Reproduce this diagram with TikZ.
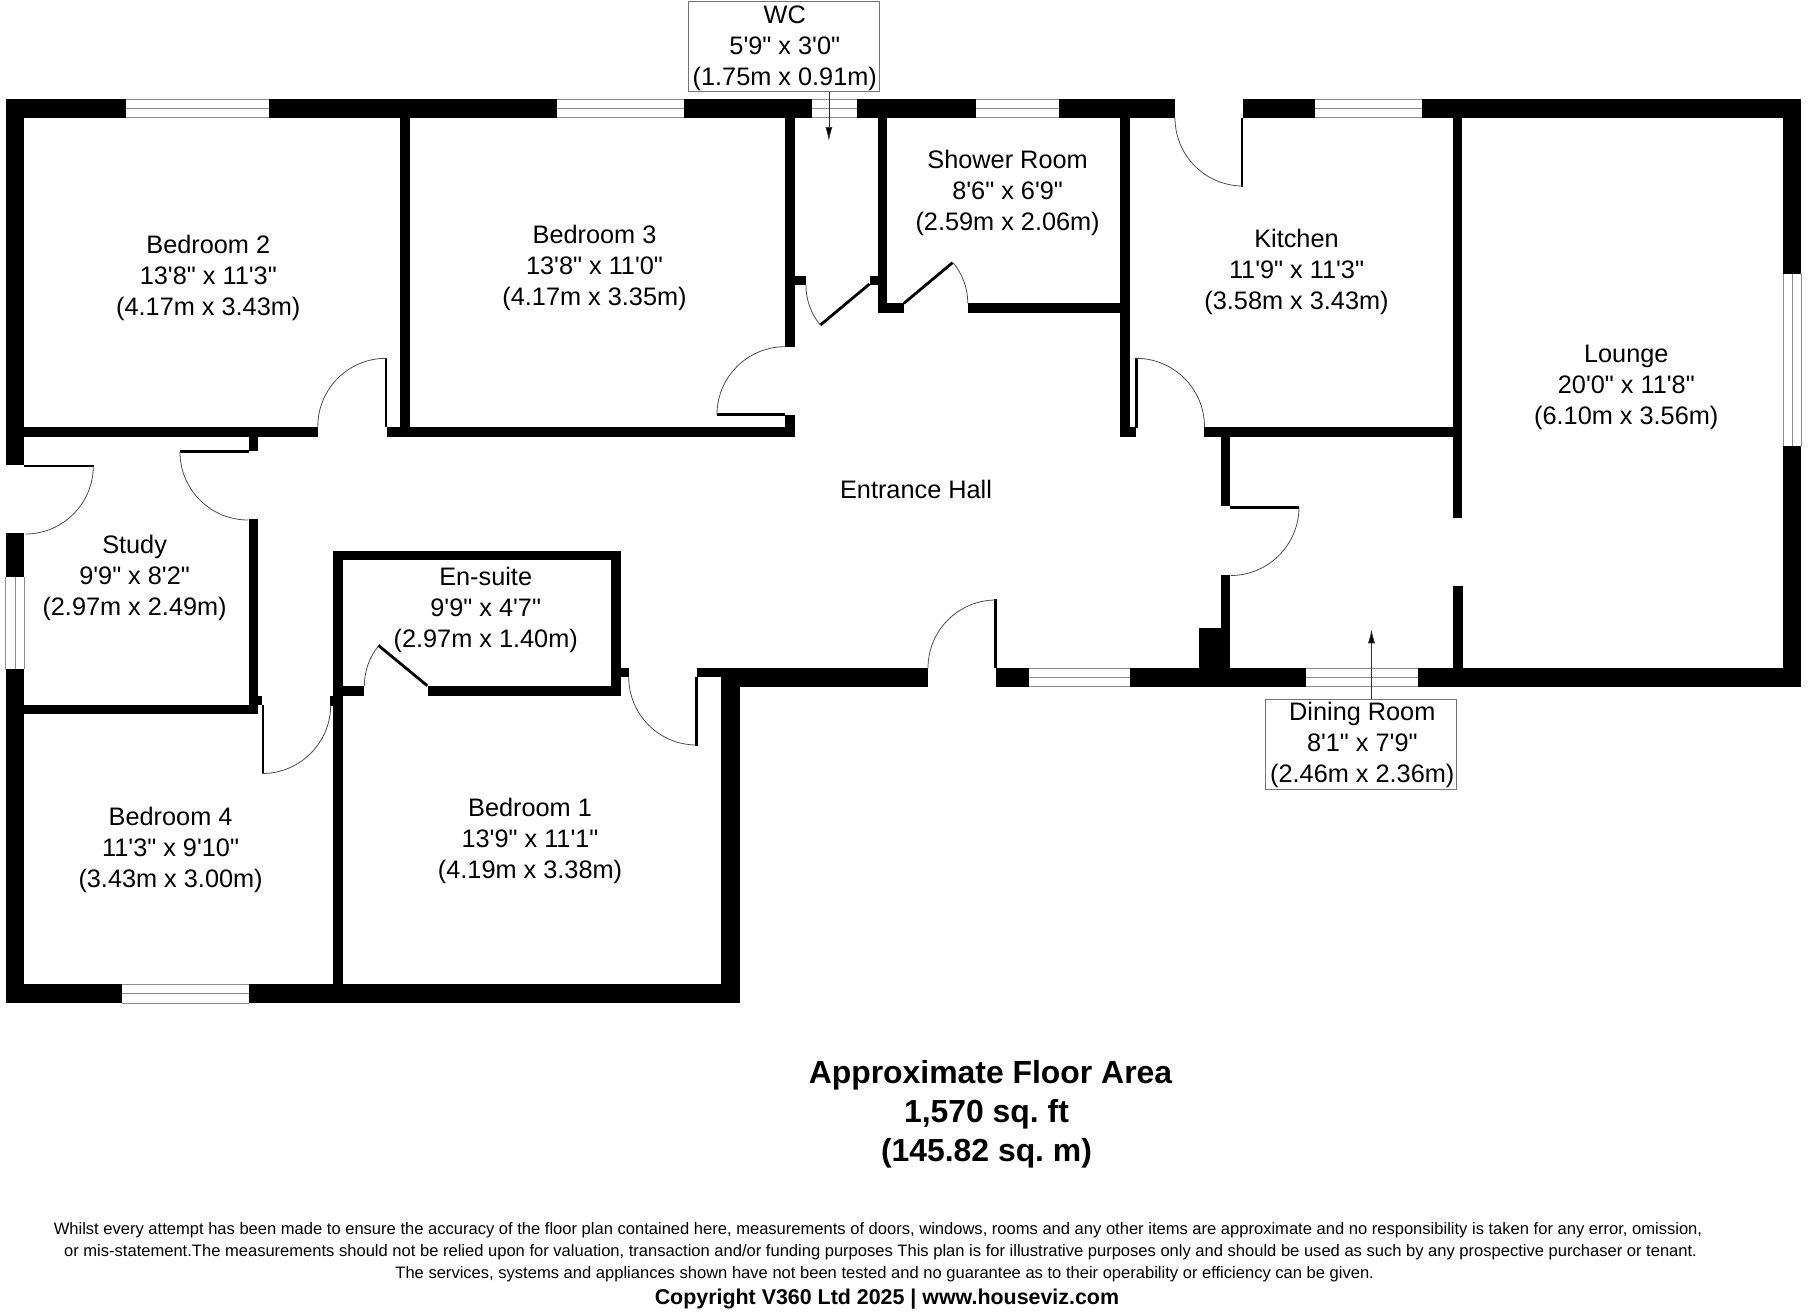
\documentclass[tikz,border=0pt]{standalone}
\usepackage{fontspec}
\usetikzlibrary{arrows.meta}
\newfontfamily\plain{Liberation Sans}
\newfontfamily\plainbf{Liberation Sans Bold}
\tikzset{
  roomlabel/.style={inner sep=0pt,align=center,text=black,font=\plain\fontsize{25.3pt}{31pt}\selectfont},
  titlelabel/.style={inner sep=0pt,align=center,text=black,font=\plainbf\fontsize{31.9pt}{39pt}\selectfont\frenchspacing},
  notelabel/.style={inner sep=0pt,anchor=base,text=black,font=\plain\fontsize{16.55pt}{18pt}\selectfont},
  copylabel/.style={inner sep=0pt,anchor=base,text=black,font=\plainbf\fontsize{21.4pt}{24pt}\selectfont},
  calloutbox/.style={draw=black!55,line width=0.9pt,fill=white,inner sep=0pt},
  calloutarrow/.style={draw=black!80,line width=0.7pt,-{Latex[length=14pt,width=7pt,fill=black]}},
  wallfill/.style={fill=black,draw=none},
  winline/.style={draw=black!45,line width=1pt},
  swing/.style={draw=black!70,line width=0.8pt},
  leaf/.style={draw=black,line width=2.8pt},
}
\newcommand{\wl}[4]{\fill[wallfill] (#1,#2) rectangle (#3,#4);}
\newcommand{\hwin}[4]{\draw[winline] (#1,#2) -- (#3,#2) (#1,#4) -- (#3,#4) (#1,{(#2+#4)/2}) -- (#3,{(#2+#4)/2});}
\newcommand{\vwin}[4]{\draw[winline] (#1,#2) -- (#1,#4) (#3,#2) -- (#3,#4) ({(#1+#3)/2},#2) -- ({(#1+#3)/2},#4);}
\newcommand{\swg}[5]{\draw[swing] (#1,#2) arc[start angle=#3,end angle=#4,radius=#5pt];}
\newcommand{\ph}{\vphantom{(}}
\begin{document}
\begin{tikzpicture}[x=1pt,y=-1pt]
\useasboundingbox (0,0) rectangle (1808,1312);
\fill[white] (0,0) rectangle (1808,1312);
% top wall
\wl{5.7}{99.3}{126.3}{117.7}
\wl{269.4}{99.3}{557}{117.7}
\wl{683.8}{99.3}{811.6}{117.7}
\wl{857.2}{99.3}{976.2}{117.7}
\wl{1059.2}{99.3}{1174.8}{117.7}
\wl{1243.2}{99.3}{1314.5}{117.7}
\wl{1422.3}{99.3}{1801.3}{117.7}
% left wall
\wl{5.7}{99.3}{24.3}{465}
\wl{5.7}{533.3}{24.3}{577.3}
\wl{5.7}{668.7}{24.3}{1003.3}
% bottom of bedrooms
\wl{5.7}{984.3}{122}{1003.3}
\wl{248.7}{984.3}{740.2}{1003.3}
\wl{721.3}{677.3}{740.2}{1003.3}
% bottom of main block
\wl{696.7}{668}{740.2}{677.3}
\wl{721.3}{668}{928}{686.7}
\wl{996}{668}{1028.6}{686.7}
\wl{1130}{668}{1306.4}{686.7}
\wl{1418.2}{668}{1801.3}{686.7}
% right wall
\wl{1782.8}{99.3}{1801.3}{273.7}
\wl{1782.8}{445.7}{1801.3}{686.7}
% bedroom 2 / 3
\wl{400.3}{117.7}{409.5}{430}
\wl{24}{427.3}{318.4}{436.7}
\wl{387}{427.3}{794.8}{436.7}
\wl{249}{436}{258.3}{450.7}
% study
\wl{249}{519.3}{258.3}{714}
\wl{24}{704.7}{258.3}{714}
\wl{258}{695.7}{261.7}{704.7}
% en-suite
\wl{333.3}{550.7}{620.7}{560.3}
\wl{333.3}{550.7}{343.3}{1000}
\wl{611.3}{550.7}{620.7}{695.7}
\wl{428}{685.7}{620.7}{695.7}
\wl{343}{686.4}{364.3}{696}
\wl{330}{695.7}{334}{705.7}
\wl{620.7}{668}{628.7}{677.3}
% WC and shower room
\wl{785.2}{117.7}{794.8}{346.7}
\wl{794.8}{276}{805.9}{285.3}
\wl{785.2}{415}{794.8}{436.7}
\wl{870}{276}{877.5}{285.3}
\wl{877.5}{117.7}{886.6}{312.7}
\wl{877.5}{303.3}{903.9}{312.7}
\wl{967.8}{303.3}{1120}{312.7}
% kitchen
\wl{1120}{117.7}{1129.7}{436.7}
\wl{1120}{427.3}{1135.8}{436.7}
\wl{1203.7}{427}{1462}{436.7}
\wl{1453}{117.7}{1462.4}{517.7}
\wl{1453}{586}{1462.6}{670}
% dining room
\wl{1220.7}{430}{1230.3}{506}
\wl{1220.7}{575}{1230.3}{670}
\wl{1198.9}{627.7}{1230.3}{670}
% windows
\hwin{126.3}{99.3}{269.4}{117.7}
\hwin{557}{99.3}{683.8}{117.7}
\hwin{811.6}{99.3}{857.2}{117.7}
\hwin{976.2}{99.3}{1059.2}{117.7}
\hwin{1314.5}{99.3}{1422.3}{117.7}
\hwin{122}{984.6}{248.7}{1003}
\hwin{1028.6}{668.2}{1130}{686.5}
\hwin{1306.4}{668.2}{1418.2}{686.5}
\vwin{5.9}{577.3}{24.1}{668.7}
\vwin{1783}{273.7}{1801.1}{445.7}
% door leaves
\wl{385}{358.3}{387.3}{427.3}
\wl{180}{450.4}{249.2}{452.8}
\wl{24.3}{464.5}{93.5}{466.7}
\wl{261.5}{704.7}{264}{773.3}
\wl{695}{676.7}{697.5}{746}
\wl{716.7}{413.2}{785.4}{415.6}
\wl{1241}{117.7}{1243.3}{186.7}
\wl{1135.4}{358.3}{1137.7}{427.5}
\wl{1230.3}{506}{1299}{508.6}
\wl{994}{599}{996.5}{668}
\draw[leaf] (378.3,645.3) -- (427.3,685.7);
\draw[leaf] (820.4,325) -- (869.5,284);
\draw[leaf] (903.9,303.3) -- (952.5,262.7);
% door swings
\swg{386}{358.3}{90}{180}{68.2}
\swg{93.3}{466}{0}{-90}{68}
\swg{180}{452}{180}{270}{68}
\swg{330.7}{705}{0}{-90}{68.5}
\swg{364.3}{686}{180}{140.7}{64}
\swg{628.7}{677}{180}{270}{68}
\swg{785}{346.7}{90}{180}{68}
\swg{805.9}{285}{180}{219.5}{63}
\swg{967.8}{303.3}{0}{39.9}{63.5}
\swg{1175}{118}{180}{270}{68}
\swg{1136}{358.3}{90}{0}{68.5}
\swg{1299}{507}{0}{-90}{68.5}
\swg{928}{668}{180}{90}{68}
% room labels
\node[roomlabel] (bed2) at (208.3,278) {Bedroom 2\ph\\13'8" x 11'3"\\(4.17m x 3.43m)};
\node[roomlabel] (bed3) at (594.5,268) {Bedroom 3\ph\\13'8" x 11'0"\\(4.17m x 3.35m)};
\node[roomlabel] (shower) at (1007.6,193.3) {Shower Room\ph\\8'6" x 6'9"\\(2.59m x 2.06m)};
\node[roomlabel] (kitchen) at (1296.5,271.6) {Kitchen\ph\\11'9" x 11'3"\\(3.58m x 3.43m)};
\node[roomlabel] (lounge) at (1626.3,386.6) {Lounge\ph\\20'0" x 11'8"\\(6.10m x 3.56m)};
\node[roomlabel] (hall) at (916,489) {Entrance Hall};
\node[roomlabel] (study) at (134.6,578) {Study\ph\\9'9" x 8'2"\\(2.97m x 2.49m)};
\node[roomlabel] (ensuite) at (485.7,610) {En-suite\ph\\9'9" x 4'7"\\(2.97m x 1.40m)};
\node[roomlabel] (bed4) at (170.6,850.3) {Bedroom 4\ph\\11'3" x 9'10"\\(3.43m x 3.00m)};
\node[roomlabel] (bed1) at (530,841) {Bedroom 1\ph\\13'9" x 11'1"\\(4.19m x 3.38m)};
% callouts
\node[calloutbox,minimum width=191pt,minimum height=90pt] (wcbox) at (783.5,46.3) {};
\node[roomlabel] (wc) at (784.8,47.6) {WC\ph\\5'9" x 3'0"\\(1.75m x 0.91m)};
\coordinate (wctip) at (828.9,141);
\draw[calloutarrow] (wctip |- wcbox.south) -- (wctip);
\node[calloutbox,minimum width=191.3pt,minimum height=90pt] (dinebox) at (1361.2,744.3) {};
\node[roomlabel] (dining) at (1362.3,745) {Dining Room\ph\\8'1" x 7'9"\\(2.46m x 2.36m)};
\coordinate (dinetip) at (1371.5,629.3);
\draw[calloutarrow] (dinetip |- dinebox.north) -- (dinetip);
% footer
\node[titlelabel] (area) at (990.5,1114.5) {Approximate Floor Area\ph\\1,570 sq. ft\kern8pt\\(145.82 sq. m)\kern8pt};
\node[notelabel] (n1) at (878,1234.3) {Whilst every attempt has been made to ensure the accuracy of the floor plan contained here, measurements of doors, windows, rooms and any other items are approximate and no responsibility is taken for any error, omission,};
\node[notelabel] (n2) at (880.6,1256.7) {or mis-statement.The measurements should not be relied upon for valuation, transaction and/or funding purposes This plan is for illustrative purposes only and should be used as such by any prospective purchaser or tenant.};
\node[notelabel] (n3) at (884.7,1278.7) {The services, systems and appliances shown have not been tested and no guarantee as to their operability or efficiency can be given.};
\node[copylabel] (n4) at (886.9,1304) {Copyright V360 Ltd 2025 | www.houseviz.com};
\end{tikzpicture}
\end{document}
